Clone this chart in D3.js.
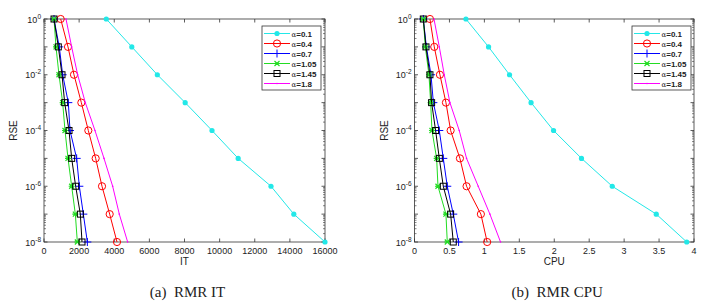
<html>
<head>
  <script src="https://d3js.org/d3.v7.min.js"></script>
  <style>
    body { margin: 0; background: white; }
    svg text { font-family: "Liberation Sans", Arial, sans-serif; fill: #222; }
    .caption { font-family: "Liberation Serif", "Times New Roman", serif !important; font-size: 15px; }
  </style>
</head>
<body>
<svg id="chart" width="715" height="304"></svg>
<script>
  // shared y levels (RSE)
  const rseLevels = [1, 1e-1, 1e-2, 1e-3, 1e-4, 1e-5, 1e-6, 1e-7, 1e-8];
  const alphaNames = ["0.1", "0.4", "0.7", "1.05", "1.45", "1.8"];
  const seriesColors = ["#22e8e8", "#ff0000", "#0000ff", "#22dd22", "#000000", "#ff00ff"];
  const seriesMarkers = ["dot", "circle", "plus", "x", "square", "none"];

  // iterations per alpha, one value per rse level
  const itValues = [
    [3547, 5000, 6453, 8038, 9566, 11057, 12925, 14226, 16000],
    [950, 1367, 1708, 2126, 2524, 2942, 3303, 3739, 4157],
    [570, 870, 1063, 1385, 1481, 1860, 2012, 2240, 2468],
    [570, 683, 854, 1063, 1196, 1367, 1575, 1784, 1898],
    [570, 815, 1025, 1177, 1424, 1575, 1803, 2069, 2164],
    [1253, 1575, 1917, 2353, 2903, 3417, 3910, 4288, 4763]
  ];
  // cpu time per alpha
  const cpuValues = [
    [0.736, 1.06, 1.36, 1.668, 1.99, 2.39, 2.83, 3.46, 3.896],
    [0.221, 0.283, 0.364, 0.45, 0.517, 0.65, 0.745, 0.95, 1.04],
    [0.126, 0.17, 0.236, 0.27, 0.355, 0.412, 0.469, 0.555, 0.631],
    [0.126, 0.155, 0.207, 0.231, 0.25, 0.317, 0.336, 0.45, 0.469],
    [0.126, 0.164, 0.221, 0.245, 0.302, 0.355, 0.412, 0.517, 0.555],
    [0.279, 0.355, 0.426, 0.507, 0.64, 0.745, 0.912, 1.079, 1.231]
  ];
  const itTicks = [0, 2000, 4000, 6000, 8000, 10000, 12000, 14000, 16000];
  const cpuTicks = [0, 0.5, 1, 1.5, 2, 2.5, 3, 3.5, 4];

  const svg = d3.select("#chart");

  function drawMarker(g, type, x, y, color) {
    if (type == "dot") {
      g.append("circle").attr("cx", x).attr("cy", y).attr("r", 2.6).attr("fill", color);
    } else if (type == "circle") {
      g.append("circle").attr("cx", x).attr("cy", y).attr("r", 3.6)
        .attr("fill", "none").attr("stroke", color).attr("stroke-width", 1);
    } else if (type == "plus") {
      g.append("path").attr("d", `M${x - 4},${y}H${x + 4}M${x},${y - 4}V${y + 4}`)
        .attr("stroke", color).attr("stroke-width", 1);
    } else if (type == "x") {
      g.append("path").attr("d", `M${x - 2.5},${y - 2.5}L${x + 2.5},${y + 2.5}M${x - 2.5},${y + 2.5}L${x + 2.5},${y - 2.5}M${x - 3},${y}H${x + 3}`)
        .attr("stroke", color).attr("stroke-width", 1.2);
    } else if (type == "square") {
      g.append("rect").attr("x", x - 3).attr("y", y - 3).attr("width", 6).attr("height", 6)
        .attr("fill", "none").attr("stroke", color).attr("stroke-width", 1);
    } else {
      g.append("circle").attr("cx", x).attr("cy", y).attr("r", 0.8).attr("fill", color);
    }
  }

  function drawPanel(left, right, xMax, xTicks, xFmt, values, xTitle, caption, legendX) {
    let top = 19, bottom = 242;
    let xScale = d3.scaleLinear([0, xMax], [left, right]);
    let yScale = d3.scaleLog([1e-8, 1], [bottom, top]);
    let g = svg.append("g");

    // box
    g.append("rect").attr("x", left).attr("y", top).attr("width", right - left).attr("height", bottom - top)
      .attr("fill", "none").attr("stroke", "#333").attr("stroke-width", 0.8);

    // x ticks (inward, top and bottom)
    xTicks.forEach(t => {
      let x = xScale(t);
      g.append("line").attr("x1", x).attr("x2", x).attr("y1", bottom).attr("y2", bottom - 3.5).attr("stroke", "#333").attr("stroke-width", 0.8);
      g.append("line").attr("x1", x).attr("x2", x).attr("y1", top).attr("y2", top + 3.5).attr("stroke", "#333").attr("stroke-width", 0.8);
      g.append("text").attr("x", x).attr("y", bottom + 12).attr("text-anchor", "middle")
        .style("font-size", "9px").text(xFmt(t));
    });

    // y ticks, major + minor
    for (let e = -8; e <= 0; e++) {
      let y = yScale(Math.pow(10, e));
      [left, right].forEach((x0, i) => {
        let d = i == 0 ? 1 : -1;
        g.append("line").attr("x1", x0).attr("x2", x0 + d * 3.5).attr("y1", y).attr("y2", y).attr("stroke", "#333").attr("stroke-width", 0.8);
        if (e < 0) {
          for (let m = 2; m <= 9; m++) {
            let ym = yScale(m * Math.pow(10, e));
            g.append("line").attr("x1", x0).attr("x2", x0 + d * 2).attr("y1", ym).attr("y2", ym).attr("stroke", "#333").attr("stroke-width", 0.6);
          }
        }
      });
      if (e % 2 == 0) {
        let lbl = g.append("text").attr("x", left - 3).attr("y", y + 3.5).attr("text-anchor", "end").style("font-size", "9px");
        lbl.append("tspan").text("10");
        lbl.append("tspan").attr("dy", -4).style("font-size", "6.5px").text(e == 0 ? "0" : String(e));
      }
    }

    // axis titles
    g.append("text").attr("x", (left + right) / 2).attr("y", bottom + 23).attr("text-anchor", "middle")
      .style("font-size", "10px").text(xTitle);
    g.append("text").attr("transform", `translate(${left - 27}, ${(top + bottom) / 2}) rotate(-90)`)
      .attr("text-anchor", "middle").style("font-size", "10px").text("RSE");
    g.append("text").attr("class", "caption").attr("x", (left + right) / 2 + 3).attr("y", 297)
      .attr("text-anchor", "middle").text(caption);

    // series
    let line = d3.line().x(d => xScale(d[0])).y(d => yScale(d[1]));
    values.forEach((vals, i) => {
      let pts = vals.map((v, j) => [v, rseLevels[j]]);
      g.append("path").datum(pts).attr("d", line).attr("fill", "none")
        .attr("stroke", seriesColors[i]).attr("stroke-width", 1);
      pts.forEach(p => drawMarker(g, seriesMarkers[i], xScale(p[0]), yScale(p[1]), seriesColors[i]));
    });

    // legend
    let lg = g.append("g");
    lg.append("rect").attr("x", legendX).attr("y", 26).attr("width", 59).attr("height", 64)
      .attr("fill", "white").attr("stroke", "#333").attr("stroke-width", 0.8);
    alphaNames.forEach((a, i) => {
      let y = 33.5 + i * 10;
      lg.append("line").attr("x1", legendX + 2).attr("x2", legendX + 28).attr("y1", y).attr("y2", y)
        .attr("stroke", seriesColors[i]).attr("stroke-width", 1);
      drawMarker(lg, seriesMarkers[i], legendX + 15, y, seriesColors[i]);
      let t = lg.append("text").attr("x", legendX + 29.5).attr("y", y + 3).style("font-size", "8px");
      t.append("tspan").style("font-family", "'DejaVu Serif', serif").style("font-size", "7px").text("\u03b1");
      t.append("tspan").style("font-weight", "bold").text("=" + a);
    });
  }

  drawPanel(44, 325, 16000, itTicks, d => String(d), itValues, "IT", "(a)\u00a0\u00a0RMR IT", 262);
  drawPanel(414.5, 694, 4, cpuTicks, d => String(d), cpuValues, "CPU", "(b)\u00a0\u00a0RMR CPU", 632);
</script>
</body>
</html>
